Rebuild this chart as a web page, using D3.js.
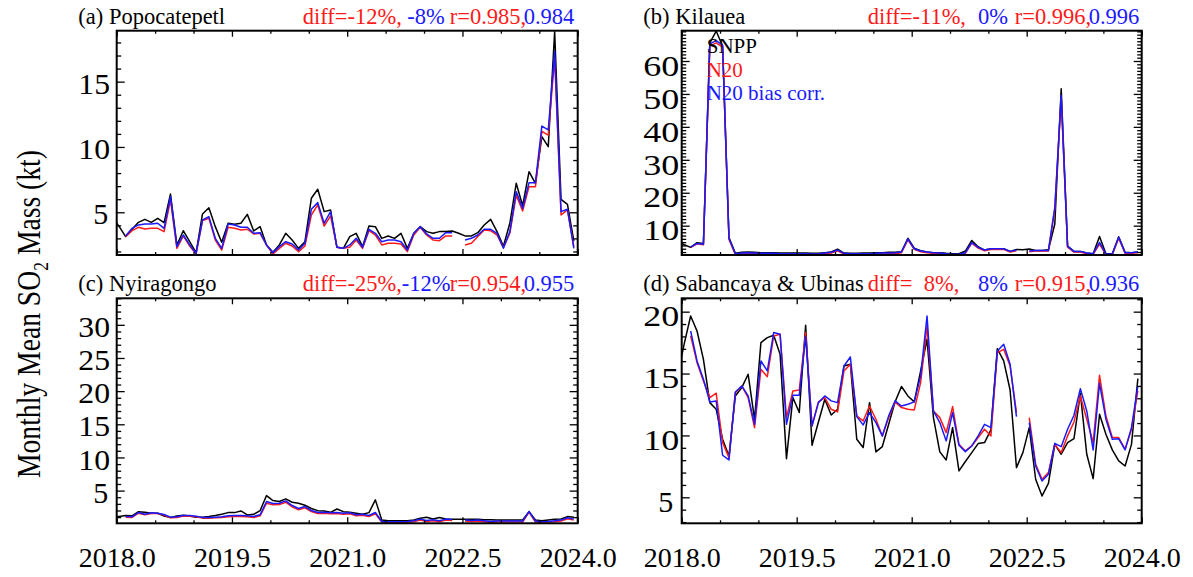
<!DOCTYPE html>
<html>
<head>
<meta charset="utf-8">
<script src="https://cdn.jsdelivr.net/npm/d3@7"></script>
<style>
  html, body { margin: 0; padding: 0; background: #fff; }
  svg text { font-family: "Liberation Serif", "Times New Roman", Times, serif; }
</style>
</head>
<body>
<svg id="chart" width="1193" height="577"></svg>
<script>
// Monthly mean SO2 mass (kt). Each series starts with Dec 2017, then Jan 2018 .. Dec 2023.
// null = no retrieval that month.

// (a) Popocatepetl
const popoSnpp = [4.6,
  3.9, 3.14, 3.7, 4.23, 4.46, 4.23, 4.54, 4.21, 6.4, 2.5, 3.59, 2.75,
  1.91, 4.87, 5.35, 3.9, 2.7, 4.16, 4.08, 4.16, 4.84, 3.57, 3.9, 2.5,
  1.94, 2.5, 3.39, 2.88, 2.24, 2.75, 6.07, 6.76, 5.05, 5.18, 2.32, 2.24,
  3.14, 3.39, 2.37, 3.95, 3.9, 3.0, 3.19, 3.0, 3.39, 2.24, 3.39, 3.9,
  3.52, 3.39, 3.52, 3.52, 3.57, 3.39, 3.19, 3.19, 3.44, 4.03, 4.46, 3.52,
  2.4, 4.16, 7.22, 5.5, 8.11, 7.22, 10.79, 10.02, 18.82, 5.99, 5.6, 2.8];
const popoN20 = [null,
  null, 3.14, 3.59, 3.85, 3.72, 3.77, 3.77, 3.52, 5.94, 2.24, 3.19, 2.42,
  1.81, 4.36, 4.54, 2.88, 2.11, 3.85, 3.77, 3.65, 3.7, 3.34, 3.39, 2.5,
  1.81, 2.24, 2.63, 2.42, 1.99, 2.42, 4.79, 5.56, 3.95, 4.72, 2.32, 2.24,
  2.32, 2.88, 2.24, 3.59, 3.26, 2.5, 2.63, 2.63, 2.57, 1.99, 3.26, 3.85,
  3.26, 2.88, 2.83, 3.19, 3.19, null, 2.5, 2.63, 3.14, 3.65, 3.59, 3.26,
  2.3, 3.39, 6.3, 5.1, 6.96, 6.96, 11.2, 10.9, 16.8, 4.79, 5.18, 2.37];
const popoN20Corr = [null,
  null, 3.19, 3.77, 4.03, 4.1, 4.1, 4.16, 3.77, 6.2, 2.37, 3.26, 2.5,
  1.86, 4.41, 4.67, 3.01, 2.24, 4.1, 4.03, 3.85, 3.85, 3.39, 3.44, 2.5,
  1.91, 2.37, 2.75, 2.57, 2.11, 2.63, 5.23, 5.74, 4.16, 5.05, 2.32, 2.24,
  2.5, 3.01, 2.32, 3.7, 3.39, 2.75, 2.88, 2.88, 2.75, 2.11, 3.39, 3.9,
  3.34, 3.01, 3.01, 3.44, 3.44, null, 2.88, 3.01, 3.26, 3.7, 3.7, 3.39,
  2.25, 3.52, 6.58, 5.3, 7.27, 7.27, 11.6, 11.3, 17.3, 5.05, 5.23, 2.24];

// (b) Kilauea
const kilaSnpp = [5.2,
  4.2, 3.43, 4.85, 4.6, 65.5, 69.1, 64.5, 6.4, 1.6, 1.9, 2.0, 1.9,
  1.8, 1.8, 1.8, 1.7, 1.7, 1.7, 1.7, 1.7, 1.6, 1.6, 1.8, 2.0,
  2.9, 1.7, 1.6, 1.6, 1.7, 1.7, 1.8, 1.8, 1.9, 1.9, 2.1, 6.2,
  3.2, 2.4, 2.0, 1.8, 1.8, 1.6, 1.5, 1.5, 2.3, 5.5, 3.6, 2.6,
  3.0, 3.0, 3.0, 2.2, 2.8, 2.7, 2.9, 2.5, 2.5, 2.7, 10.5, 51.6,
  3.8, 2.2, 2.2, 1.7, 1.5, 6.7, 1.5, 1.5, 6.6, 1.9, 1.8, 2.0];
const kilaN20 = [null,
  null, 3.4, 4.5, 4.2, 64.5, 65.5, 64.2, 5.8, 1.2, 1.4, 1.5, 1.5,
  1.4, 1.4, 1.3, 1.3, 1.3, 1.3, 1.2, 1.2, 1.2, 1.3, 1.5, 1.7,
  2.4, 1.4, 1.3, 1.3, 1.2, 1.2, 1.3, 1.4, 1.5, 1.5, 1.8, 5.7,
  2.8, 2.1, 1.8, 1.6, 1.5, 1.3, 1.1, 1.1, 1.6, 4.7, 3.2, 2.4,
  2.8, 2.8, 2.8, 2.0, 2.4, null, 2.1, 2.3, 2.3, 2.3, 15.0, 48.8,
  3.5, 2.0, 2.0, 1.5, 1.3, 4.4, 1.2, 1.2, 6.3, 1.6, 1.6, 1.8];
const kilaN20Corr = [null,
  null, 3.5, 4.6, 4.4, 65.2, 66.2, 64.8, 6.1, 1.5, 1.7, 1.8, 1.7,
  1.6, 1.6, 1.6, 1.5, 1.5, 1.5, 1.5, 1.5, 1.4, 1.5, 1.7, 1.9,
  2.6, 1.6, 1.5, 1.5, 1.5, 1.5, 1.6, 1.7, 1.7, 1.8, 2.0, 6.0,
  3.0, 2.3, 2.0, 1.8, 1.7, 1.5, 1.3, 1.3, 1.8, 4.9, 3.4, 2.6,
  3.0, 3.0, 3.0, 2.2, 2.6, null, 2.3, 2.5, 2.5, 2.5, 15.6, 49.5,
  3.7, 2.2, 2.2, 1.7, 1.5, 4.9, 1.4, 1.4, 6.5, 1.8, 1.8, 2.0];

// (c) Nyiragongo
const nyirSnpp = [1.1,
  1.08, 1.23, 1.2, 1.83, 1.73, 1.58, 1.58, 1.18, 0.93, 1.18, 1.28, 1.18,
  0.98, 0.98, 1.08, 1.23, 1.43, 1.68, 1.68, 1.93, 1.33, 1.43, 1.98, 4.25,
  3.5, 3.35, 3.75, 3.24, 3.09, 2.8, 2.3, 1.98, 1.93, 1.73, 2.23, 1.83,
  1.73, 1.58, 1.43, 1.68, 3.6, 0.57, 0.47, 0.47, 0.47, 0.47, 0.57, 0.83,
  0.98, 0.73, 0.93, 0.73, 0.68, 0.68, 0.68, 0.68, 0.68, 0.62, 0.62, 0.57,
  0.57, 0.57, 0.57, 0.57, 1.83, 0.57, 0.47, 0.57, 0.68, 0.73, 1.08, 0.98];
const nyirN20 = [null,
  null, 1.0, 0.95, 1.6, 1.35, 1.55, 1.55, 1.3, 0.9, 0.95, 1.15, 1.15,
  1.05, 0.85, 0.85, 0.9, 0.95, 1.05, 1.1, 1.1, 1.05, 0.95, 1.2, 3.1,
  2.85, 2.9, 3.25, 2.55, 2.1, 2.4, 1.85, 1.55, 1.6, 1.5, 1.55, 1.45,
  1.5, 1.2, 1.3, 1.1, 1.5, 0.25, 0.2, 0.2, 0.2, 0.2, 0.3, 0.55,
  0.35, 0.45, 0.3, 0.55, 0.5, null, 0.4, 0.35, 0.4, 0.3, 0.2, 0.25,
  0.25, 0.25, 0.25, 0.25, 1.75, 0.25, 0.2, 0.25, 0.3, 0.4, 0.75, 0.55];
const nyirN20Corr = [null,
  null, 1.1, 1.05, 1.7, 1.45, 1.65, 1.6, 1.4, 1.0, 1.05, 1.25, 1.25,
  1.15, 0.95, 0.95, 1.0, 1.05, 1.2, 1.25, 1.25, 1.2, 1.1, 1.35, 3.35,
  3.05, 3.1, 3.45, 2.75, 2.3, 2.6, 2.0, 1.7, 1.75, 1.65, 1.7, 1.6,
  1.65, 1.35, 1.45, 1.25, 1.7, 0.35, 0.3, 0.3, 0.3, 0.35, 0.45, 0.7,
  0.5, 0.6, 0.45, 0.7, 0.65, null, 0.55, 0.5, 0.55, 0.45, 0.35, 0.4,
  0.4, 0.4, 0.4, 0.4, 1.85, 0.4, 0.3, 0.35, 0.45, 0.55, 0.9, 0.7];

// (d) Sabancaya & Ubinas
const sabaSnpp = [14.9,
  17.42, 19.65, 18.44, 16.15, 12.65, 12.11, 9.69, 8.34, 13.19, 13.86, 14.94, 11.31,
  17.5, 17.9, 18.09, 16.56, 8.12, 13.06, 11.85, 18.9, 9.21, 11.09, 12.92, 11.65,
  12.11, 15.61, 15.75, 9.69, 9.02, 12.65, 8.67, 9.1, 10.9, 12.71, 13.95, 13.19,
  12.71, 15.21, 17.77, 11.44, 8.67, 8.02, 10.63, 7.13, 7.89, 8.61, 9.34, 9.42,
  10.45, 17.01, 16.02, 13.67, 7.4, 8.61, 10.63, 6.46, 5.11, 6.13, 9.28, 8.48,
  9.42, 9.74, 13.4, 8.48, 6.51, 11.71, 10.09, 8.83, 7.94, 7.53, 9.28, 14.59];
const sabaN20 = [null,
  null, 18.04, 15.88, 14.4, 13.06, 13.41, 9.42, 8.21, 13.46, 14.0, 13.06, 10.63,
  15.34, 14.75, 18.04, 18.17, 11.44, 13.59, 13.67, 18.31, 10.77, 12.71, 13.06, 12.11,
  11.9, 15.21, 15.75, 11.58, 11.17, 12.38, 11.31, 9.96, 11.44, 12.71, 12.25, 12.11,
  12.06, 14.27, 18.84, 11.98, 11.44, 10.23, 12.33, 9.28, 8.75, 9.15, 9.83, 10.5,
  9.96, 16.69, 16.96, 15.61, 11.85, null, 11.44, 7.67, 6.46, 7.0, 9.28, 8.61,
  9.96, 11.09, 13.19, 11.31, 9.42, 14.86, 11.58, 9.83, 9.83, 8.88, 10.5, 13.59];
const sabaN20Corr = [null,
  null, 18.44, 16.02, 14.54, 12.71, 12.79, 8.4, 8.02, 13.51, 14.0, 13.19, 10.9,
  16.02, 15.21, 18.31, 18.17, 10.9, 13.24, 13.24, 17.98, 10.77, 12.65, 13.19, 12.79,
  12.65, 15.61, 16.34, 11.52, 10.85, 11.85, 11.04, 9.96, 11.58, 12.79, 12.38, 12.52,
  12.71, 14.81, 19.65, 11.98, 11.04, 9.56, 11.85, 9.2, 8.69, 9.15, 9.96, 10.9,
  10.63, 16.83, 17.37, 15.75, 11.52, null, 11.04, 7.53, 6.32, 6.86, 9.36, 9.09,
  10.5, 11.63, 13.78, 11.98, 8.83, 14.21, 11.31, 9.69, 9.74, 8.83, 10.63, 14.0];

// Summary statistics printed above each panel (N20, N20 bias corrected)
const diffN20 = [-12, -11, -25, 8];
const diffCorr = [-8, 0, -12, 8];
const rN20 = [0.985, 0.996, 0.954, 0.915];
const rCorr = [0.984, 0.996, 0.955, 0.936];

const panelTitles = ["(a) Popocatepetl", "(b) Kilauea", "(c) Nyiragongo", "(d) Sabancaya & Ubinas"];
const seriesNames = ["SNPP", "N20", "N20 bias corr."];
const xTickValues = [2018.0, 2019.5, 2021.0, 2022.5, 2024.0];
const yTickValues = [[5, 10, 15], [10, 20, 30, 40, 50, 60], [5, 10, 15, 20, 25, 30], [5, 10, 15, 20]];

// Decimal-year position of each monthly value (Dec 2017 .. Dec 2023)
const monthX = d3.range(-1, 72).map(i => 2018 + (i + 0.4) / 12);

const seriesColors = ["#000000", "#ff1a1a", "#1a1aff"];
const fontFamily = '"Liberation Serif", "Times New Roman", Times, serif';

const panels = [
  { left: 116.7, top: 30.7, width: 461, height: 224.3, yDomain: [1.73, 18.9],
    series: [popoSnpp, popoN20, popoN20Corr], labelWidth2: 31.7, labelDy: 11.6 },
  { left: 681.7, top: 30.7, width: 460, height: 224.3, yDomain: [1.1, 69.2],
    series: [kilaSnpp, kilaN20, kilaN20Corr], labelWidth2: 36, labelDy: 14.2, legend: true },
  { left: 116.7, top: 298.3, width: 461, height: 225, yDomain: [0.07, 34.0],
    series: [nyirSnpp, nyirN20, nyirN20Corr], labelWidth2: 31.7, labelDy: 11.6, xLabels: true },
  { left: 681.7, top: 298.3, width: 460, height: 225, yDomain: [2.9, 21.08],
    series: [sabaSnpp, sabaN20, sabaN20Corr], labelWidth2: 36, labelDy: 14.2, xLabels: true }
];

const svg = d3.select("#chart");
svg.append("rect").attr("width", 1193).attr("height", 577).attr("fill", "#fff");

const pad3 = v => String(v).padStart(3, " ");

panels.forEach((p, k) => {
  const x = d3.scaleLinear().domain([2018, 2024]).range([0, p.width]);
  const y = d3.scaleLinear().domain(p.yDomain).range([p.height, 0]);
  const g = svg.append("g").attr("transform", `translate(${p.left},${p.top})`);

  const clipId = "clip" + k;
  g.append("clipPath").attr("id", clipId)
    .append("rect").attr("x", 0).attr("y", -3).attr("width", p.width).attr("height", p.height + 3);

  const line = d3.line()
    .defined(d => d.v != null)
    .x(d => x(d.t))
    .y(d => y(d.v));

  const plot = g.append("g").attr("clip-path", `url(#${clipId})`);
  p.series.forEach((vals, s) => {
    const pts = vals.map((v, i) => ({ t: monthX[i], v }));
    plot.append("path")
      .datum(pts)
      .attr("d", line)
      .attr("fill", "none")
      .attr("stroke", seriesColors[s])
      .attr("stroke-width", 1.5)
      .attr("stroke-linejoin", "round");
  });

  // Minor / major tick sets
  const [y0, y1] = p.yDomain;
  const yMinor = d3.range(Math.ceil(y0), Math.floor(y1) + 1).filter(v => !yTickValues[k].includes(v));
  const xMinor = d3.range(2018, 2024.01, 0.5).filter(v => !xTickValues.includes(v));

  const styleAxis = sel => {
    sel.select(".domain").remove();
    sel.selectAll(".tick line").attr("stroke", "#000").attr("stroke-width", 1.3);
  };

  // Left axis with labels, ticks pointing inward
  g.append("g")
    .call(d3.axisLeft(y).tickValues(yTickValues[k]).tickSize(-8).tickFormat(d3.format("d")))
    .call(styleAxis)
    .call(a => a.selectAll("text")
      .attr("font-size", 30).attr("font-family", fontFamily).attr("fill", "#000")
      .attr("text-anchor", "start")
      .attr("dy", null)
      .attr("y", p.labelDy)
      .each(function (d) {
        const n = String(d).length;
        const t = d3.select(this).attr("x", -8.4 - 15 * n);
        if (n === 2) t.attr("textLength", p.labelWidth2).attr("lengthAdjust", "spacingAndGlyphs");
      }));
  g.append("g")
    .call(d3.axisLeft(y).tickValues(yMinor).tickSize(-4.5).tickFormat(""))
    .call(styleAxis);

  // Right axis (ticks only)
  g.append("g").attr("transform", `translate(${p.width},0)`)
    .call(d3.axisRight(y).tickValues(yTickValues[k]).tickSize(-8).tickFormat(""))
    .call(styleAxis);
  g.append("g").attr("transform", `translate(${p.width},0)`)
    .call(d3.axisRight(y).tickValues(yMinor).tickSize(-4.5).tickFormat(""))
    .call(styleAxis);

  // Bottom axis
  const bottom = g.append("g").attr("transform", `translate(0,${p.height})`)
    .call(d3.axisBottom(x).tickValues(xTickValues).tickSize(-6)
      .tickFormat(p.xLabels ? d3.format(".1f") : ""))
    .call(styleAxis);
  bottom.selectAll("text")
    .attr("font-size", 28).attr("font-family", fontFamily).attr("fill", "#000")
    .attr("dy", null).attr("y", 43.3);
  g.append("g").attr("transform", `translate(0,${p.height})`)
    .call(d3.axisBottom(x).tickValues(xMinor).tickSize(-3).tickFormat(""))
    .call(styleAxis);

  // Top axis (ticks only)
  g.append("g")
    .call(d3.axisTop(x).tickValues(xTickValues).tickSize(-6).tickFormat(""))
    .call(styleAxis);
  g.append("g")
    .call(d3.axisTop(x).tickValues(xMinor).tickSize(-3).tickFormat(""))
    .call(styleAxis);

  // Frame
  g.append("rect")
    .attr("width", p.width).attr("height", p.height)
    .attr("fill", "none").attr("stroke", "#000").attr("stroke-width", 2);

  // Title and statistics line
  const baseY = -7;
  const textAt = (dx, str, color) => g.append("text")
    .attr("x", dx).attr("y", baseY)
    .attr("font-size", 22.5).attr("fill", color)
    .style("white-space", "pre")
    .attr("xml:space", "preserve")
    .text(str);

  textAt(-38.4, panelTitles[k], "#000");
  textAt(186, `diff=${pad3(diffN20[k])}%,`, seriesColors[1]);
  textAt(285, `${pad3(diffCorr[k])}%`, seriesColors[2]);
  textAt(333, `r=${rN20[k].toFixed(3)},`, seriesColors[1]);
  textAt(407, rCorr[k].toFixed(3), seriesColors[2]);

  if (p.legend) {
    seriesNames.forEach((name, s) => {
      g.append("text")
        .attr("x", 25).attr("y", 22.5 + s * 23.5)
        .attr("font-size", 21).attr("fill", seriesColors[s])
        .text(name);
    });
  }
});

// Shared y-axis title
const yTitle = svg.append("text")
  .attr("transform", "translate(40,314) rotate(-90)")
  .attr("text-anchor", "middle")
  .attr("font-size", 33)
  .attr("textLength", 328)
  .attr("lengthAdjust", "spacingAndGlyphs")
  .attr("fill", "#000");
yTitle.append("tspan").text("Monthly Mean SO");
yTitle.append("tspan").attr("font-size", 21).attr("dy", 8).text("2");
yTitle.append("tspan").attr("dy", -8).text(" Mass (kt)");
</script>
</body>
</html>
